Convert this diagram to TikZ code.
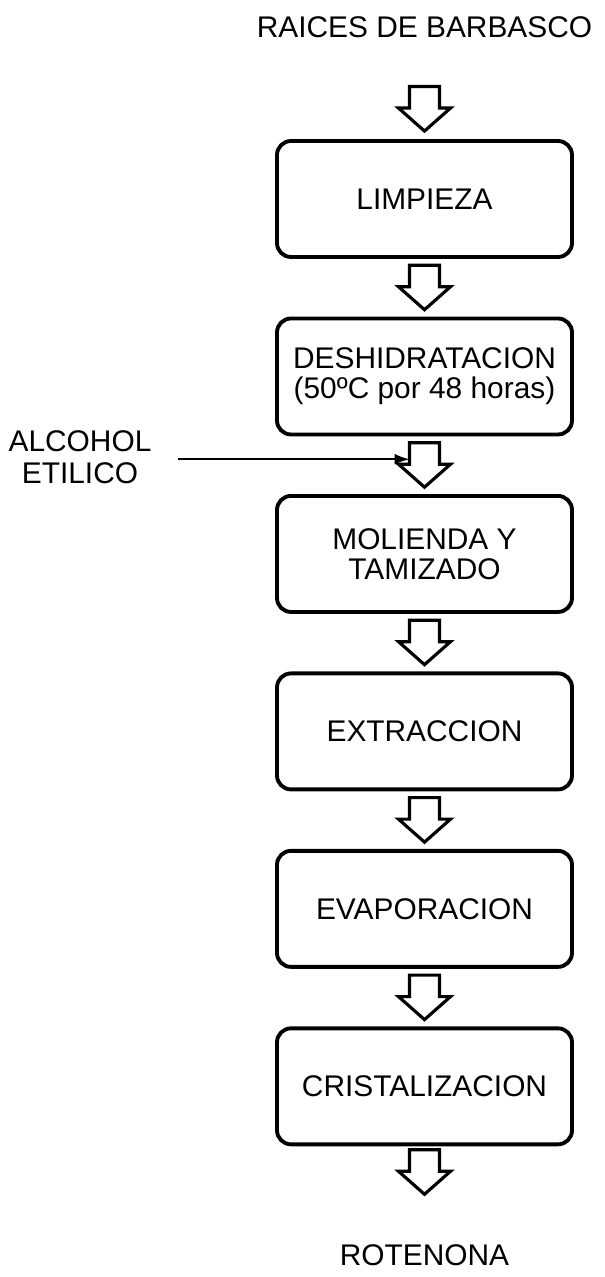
\documentclass[tikz,border=0pt]{standalone}
\usepackage{fontspec}
\setmainfont{Liberation Sans}
\usetikzlibrary{arrows.meta, positioning, calc}

\tikzset{
  stepbox/.style={draw, line width=2.2pt, rounded corners=0.28cm,
    minimum width=5.9cm, minimum height=2.32cm, align=center,
    font=\fontsize{17}{17}\selectfont},
  label/.style={align=center, font=\fontsize{17}{18.5}\selectfont},
  downarr/.pic={
    \draw[line width=1.8pt, line join=miter, fill=white]
      (-0.3,0.45) -- (0.3,0.45) -- (0.3,0.02) -- (0.52,0.02) -- (0,-0.44)
      -- (-0.52,0.02) -- (-0.3,0.02) -- cycle;
    \coordinate (-w) at (-0.3,0.12);
  }
}

\begin{document}
\begin{tikzpicture}
  \useasboundingbox (0,0) rectangle (12.08,-25.54);

  % Process steps
  \node[stepbox] (limp) at (8.49,-3.98) {LIMPIEZA};
  \node[stepbox, below=1.152cm of limp] (desh) {DESHIDRATACION\\(50ºC por 48 horas)};
  \node[stepbox, below=1.152cm of desh] (mol) {MOLIENDA Y\\TAMIZADO};
  \node[stepbox, below=1.152cm of mol] (extr) {EXTRACCION};
  \node[stepbox, below=1.152cm of extr] (evap) {EVAPORACION};
  \node[stepbox, below=1.152cm of evap] (crist) {CRISTALIZACION};

  % Input and output
  \node[label] (raiz) at (8.49,-0.54) {RAICES DE BARBASCO};
  \node[label] (rot) at (8.49,-25.1) {ROTENONA};
  \node[label] (alc) at (1.6,-9.14) {ALCOHOL\\ETILICO};

  % Block arrows
  \pic (a1) at ($(limp.north)+(0,0.6)$) {downarr};
  \pic (a2) at ($(limp.south)!0.5!(desh.north)$) {downarr};
  \pic (a3) at ($(desh.south)!0.5!(mol.north)$) {downarr};
  \pic (a4) at ($(mol.south)!0.5!(extr.north)$) {downarr};
  \pic (a5) at ($(extr.south)!0.5!(evap.north)$) {downarr};
  \pic (a6) at ($(evap.south)!0.5!(crist.north)$) {downarr};
  \pic (a7) at ($(crist.south)+(0,-0.52)$) {downarr};

  % Alcohol feed
  \draw[line width=1.1pt, -{Latex[length=0.3cm, width=0.22cm]}]
    ($(alc.east |- a3-w)+(0.4,0)$) -- (a3-w);
\end{tikzpicture}
\end{document}
